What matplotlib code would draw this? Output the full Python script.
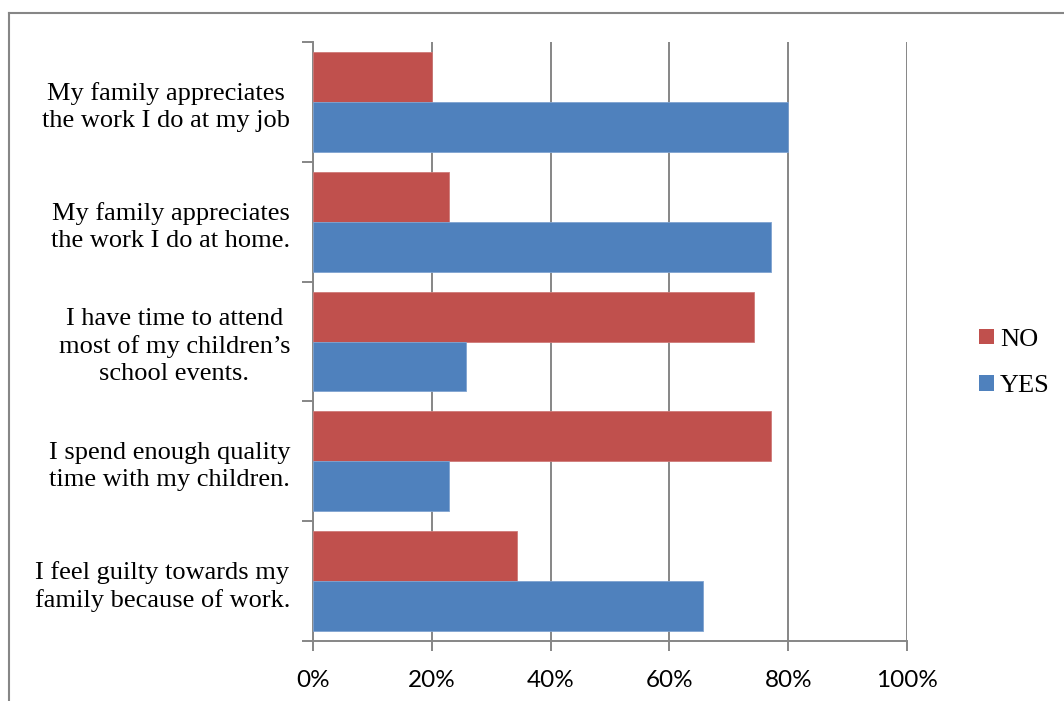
import matplotlib
matplotlib.use("Agg")
import matplotlib.pyplot as plt
from matplotlib.lines import Line2D
from matplotlib.patches import Patch
from matplotlib.ticker import FuncFormatter
import numpy as np

# Survey statements (top to bottom) and response shares in percent
statements = [
    "My family appreciates\nthe work I do at my job",
    "My family appreciates\nthe work I do at home.",
    "I have time to attend\nmost of my children\u2019s\nschool events.",
    "I spend enough quality\ntime with my children.",
    "I feel guilty towards my\nfamily because of work.",
]
no_share = [20.0, 22.9, 74.3, 77.1, 34.3]
yes_share = [80.0, 77.1, 25.7, 22.9, 65.7]
x_ticks = [0, 20, 40, 60, 80, 100]

RED = "#C0504D"
BLUE = "#4F81BD"
GRID = "#868686"

W, H = 1064, 701
fig = plt.figure(figsize=(W / 100, H / 100), dpi=100)
ax = fig.add_axes([313 / W, (H - 641) / H, (907 - 313) / W, (641 - 42) / H])

y = np.arange(len(statements))
bh = 50 / 120
ax.barh(y - bh / 2, no_share, height=bh, color=RED, edgecolor="#cf7a78", linewidth=0.6, zorder=3)
ax.barh(y + bh / 2, yes_share, height=bh, color=BLUE, edgecolor="#7fa3d0", linewidth=0.6, zorder=3)

ax.set_xlim(0, 100)
ax.set_ylim(len(statements) - 0.5, -0.5)

ax.set_xticks(x_ticks)
ax.xaxis.set_major_formatter(FuncFormatter(lambda v, p: f"{v:.0f}%"))
ax.grid(axis="x", color=GRID, linewidth=1.4, zorder=0)
ax.tick_params(axis="x", length=7, width=1.4, color=GRID, pad=14, labelsize=17.5)
for lbl in ax.get_xticklabels():
    lbl.set_family(["Lato", "DejaVu Sans"])

ax.set_yticks(np.arange(-0.5, len(statements), 1.0))
ax.set_yticklabels([])
ax.set_yticks(y, minor=True)
ax.set_yticklabels(statements, minor=True, family="Liberation Serif", fontsize=19,
                   multialignment="center", linespacing=1.3)
ax.tick_params(axis="y", which="major", length=8, width=1.4, color=GRID)
ax.tick_params(axis="y", which="minor", length=0, pad=16.5)

for side in ("top", "right"):
    ax.spines[side].set_visible(False)
for side in ("left", "bottom"):
    ax.spines[side].set_color(GRID)
    ax.spines[side].set_linewidth(1.4)

# Chart frame (top and left edges)
fig.add_artist(Line2D([9 / W, 1], [1 - 12.5 / H] * 2, color=GRID, linewidth=1.5,
                      transform=fig.transFigure))
fig.add_artist(Line2D([9 / W] * 2, [0, 1 - 12.5 / H], color=GRID, linewidth=1.5,
                      transform=fig.transFigure))

handles = [Patch(facecolor=RED, label="NO"), Patch(facecolor=BLUE, label="YES")]
fig.legend(handles=handles, loc="center left", bbox_to_anchor=(979 / W, 1 - 363 / H),
           frameon=False, prop={"family": "Liberation Serif", "size": 19},
           borderaxespad=0, borderpad=0,
           handlelength=0.55, handleheight=0.55, handletextpad=0.25, labelspacing=0.92)

fig.savefig("out.png", dpi=100, facecolor="white")
